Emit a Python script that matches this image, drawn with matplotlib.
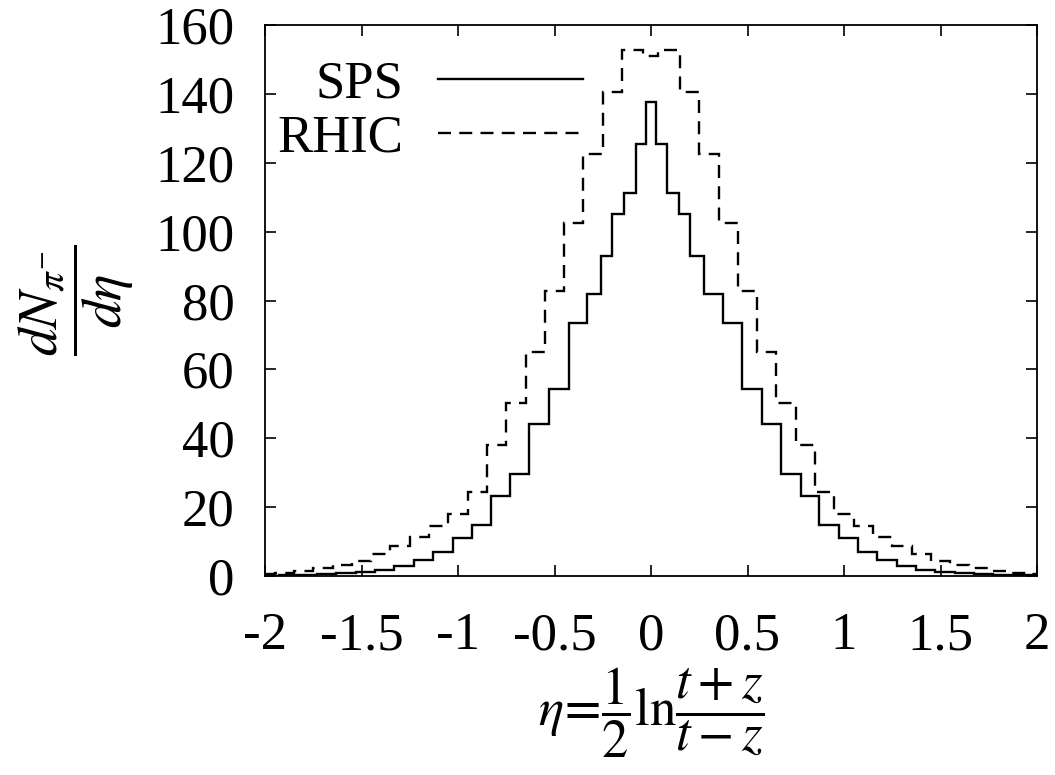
import matplotlib
matplotlib.use("Agg")
import matplotlib.pyplot as plt
from matplotlib.lines import Line2D

# ---- data ----
sps_edges = [-2.0, -1.93, -1.83, -1.73, -1.63, -1.53, -1.43, -1.33, -1.228, -1.128,
             -1.025, -0.925, -0.829, -0.73, -0.63, -0.53, -0.425, -0.33, -0.26, -0.2,
             -0.138, -0.08, -0.0275, 0.0275, 0.082, 0.143, 0.204, 0.273, 0.371, 0.474,
             0.573, 0.675, 0.776, 0.872, 0.972, 1.073, 1.173, 1.273, 1.373, 1.473,
             1.573, 1.673, 1.773, 1.873, 1.973, 2.0]
sps_values = [0.1, 0.2, 0.3, 0.5, 0.8, 1.2, 1.8, 3.0, 4.6, 7.0,
              11.0, 14.8, 23.3, 29.7, 44.0, 54.2, 73.5, 82.0, 93.0, 105.2,
              111.2, 125.3, 137.6, 125.3, 111.2, 105.2, 93.0, 82.0, 73.5, 54.2,
              44.0, 29.7, 23.3, 14.8, 11.0, 7.0, 4.6, 3.0, 1.8, 1.1,
              0.8, 0.5, 0.3, 0.2, 0.1]

rhic_edges = [-2.0, -1.95, -1.85, -1.75, -1.65, -1.55, -1.45, -1.35, -1.25, -1.15,
              -1.05, -0.95, -0.85, -0.75, -0.65, -0.55, -0.45, -0.35, -0.25, -0.15,
              -0.04, 0.035, 0.15, 0.25, 0.35, 0.45, 0.55, 0.65, 0.75, 0.85,
              0.95, 1.05, 1.15, 1.25, 1.35, 1.45, 1.55, 1.65, 1.75, 1.85,
              1.95, 2.0]
rhic_values = [0.7, 1.0, 1.5, 2.2, 3.3, 4.5, 6.3, 8.6, 11.3, 14.5,
               18.1, 24.3, 38.0, 50.2, 65.1, 82.8, 102.6, 122.5, 140.4, 152.7,
               151.1, 152.7, 140.4, 122.5, 102.6, 82.8, 65.1, 50.2, 38.0, 24.3,
               18.1, 14.5, 11.3, 8.6, 6.3, 4.5, 3.3, 2.2, 1.5, 1.0,
               0.7]

x_ticks = [-2, -1.5, -1, -0.5, 0, 0.5, 1, 1.5, 2]
x_tick_labels = ["-2", "-1.5", "-1", "-0.5", "0", "0.5", "1", "1.5", "2"]
y_ticks = [0, 20, 40, 60, 80, 100, 120, 140, 160]
y_tick_labels = ["0", "20", "40", "60", "80", "100", "120", "140", "160"]
series_labels = ["SPS", "RHIC"]

# ---- styling ----
plt.rcParams['font.family'] = ['Liberation Serif', 'DejaVu Serif']
plt.rcParams['mathtext.fontset'] = 'stix'
FS = 38

fig = plt.figure(figsize=(10.55, 7.75), dpi=100)
ax = fig.add_axes([265/1055, 1 - 576/775, (1037-265)/1055, (576-25)/775])

lw = 1.7
dash = (0, (5.5, 3.5))
ax.stairs(sps_values, sps_edges, color='black', linewidth=lw, baseline=None)
ax.stairs(rhic_values, rhic_edges, color='black', linewidth=lw, baseline=None,
          linestyle=dash)

ax.set_xlim(-2, 2)
ax.set_ylim(0, 160)
ax.set_xticks(x_ticks)
ax.set_xticklabels(x_tick_labels)
ax.set_yticks(y_ticks)
ax.set_yticklabels(y_tick_labels)
ax.tick_params(direction='in', length=8, width=1.2, top=True, right=True,
               labelsize=FS)
ax.tick_params(axis='y', pad=22)
ax.tick_params(axis='x', pad=26)
for s in ax.spines.values():
    s.set_linewidth(1.3)

ax.set_xlabel(r'$\eta\!=\!\dfrac{1}{2}\mathrm{ln}\dfrac{t+z}{t-z}$', fontsize=38, labelpad=4)
ax.set_ylabel(r'$\dfrac{dN_{\pi^{-}}}{d\eta}$', fontsize=40, labelpad=14)

handles = [Line2D([], [], color='black', linewidth=lw),
           Line2D([], [], color='black', linewidth=lw, linestyle=dash)]
ax.legend(handles, series_labels, loc='upper left', bbox_to_anchor=(0.016, 0.935),
          frameon=False, markerfirst=False, fontsize=FS, handlelength=2.75,
          handletextpad=0.65, labelspacing=0.1, borderaxespad=0.0, borderpad=0.0)

fig.savefig('out.png', dpi=100)
